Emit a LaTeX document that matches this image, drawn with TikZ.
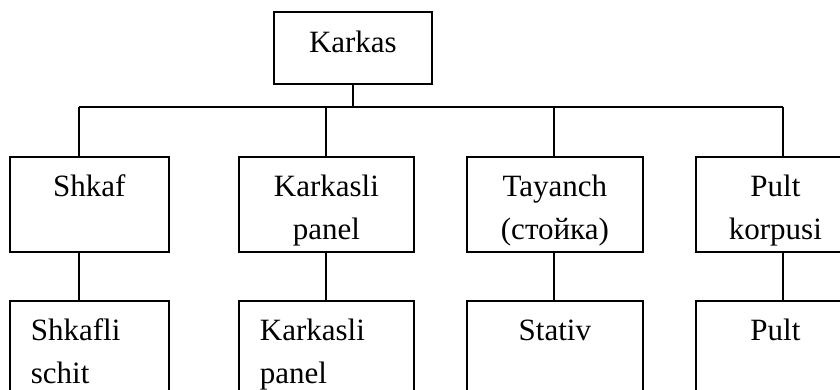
\documentclass[tikz,border=0pt]{standalone}
\usepackage{fontspec}
\setmainfont{Liberation Serif}
\usepackage{tikz}

\newcommand{\upstrut}{\rule{0pt}{40pt}}
\newcommand{\downstrut}{\rule[-12.5pt]{0pt}{12.5pt}}

\tikzset{
    root/.style={draw, line width=1.8pt, anchor=north west, minimum width=158pt,
        inner sep=0pt, text height=41pt, text depth=31pt,
        font=\fontsize{31}{42.5}\selectfont},
    part/.style={draw, line width=1.8pt, anchor=north west, inner xsep=21pt,
        inner ysep=0pt, text width=#1, align=center,
        font=\fontsize{31}{42.5}\selectfont,
        execute at begin node=\upstrut, execute at end node=\downstrut},
    link/.style={line width=1.8pt}
}

\begin{document}
\begin{tikzpicture}[x=1pt, y=-1pt]
        \useasboundingbox (0,0) rectangle (840,389);
        \clip (0,0) rectangle (840,389);

        \node[root] (karkas) at (273,11) {Karkas};

        % first row
        \node[part=117pt] (shkaf) at (9,156) {Shkaf\\};
        \node[part=133pt] (kpanel) at (238,156) {Karkasli\\panel};
        \node[part=134pt] (tayanch) at (466,156) {Tayanch\\(стойка)};
        \node[part=117pt] (pkorpus) at (695,156) {Pult\\korpusi};

        % second row
        \node[part=117pt, align=left] (schit) at (9,300) {Shkafli\\schit};
        \node[part=133pt, align=left] (kpanel2) at (238,300) {Karkasli\\panel};
        \node[part=134pt] (stativ) at (466,300) {Stativ\\};
        \node[part=117pt] (pult) at (695,300) {Pult\\};

        % bus under the root
        \coordinate (t1) at (79,107);
        \coordinate (t2) at (326,107);
        \coordinate (t3) at (554,107);
        \coordinate (t4) at (783,107);
        \draw[link] (karkas.south) -- (karkas.south |- t1);
        \draw[link] (t1) -- (t4);

        \foreach \t/\a/\b in {t1/shkaf/schit, t2/kpanel/kpanel2,
                t3/tayanch/stativ, t4/pkorpus/pult}
            \draw[link] (\t) -- (\t |- \a.north)
                (\t |- \a.south) -- (\t |- \b.north);
\end{tikzpicture}
\end{document}
